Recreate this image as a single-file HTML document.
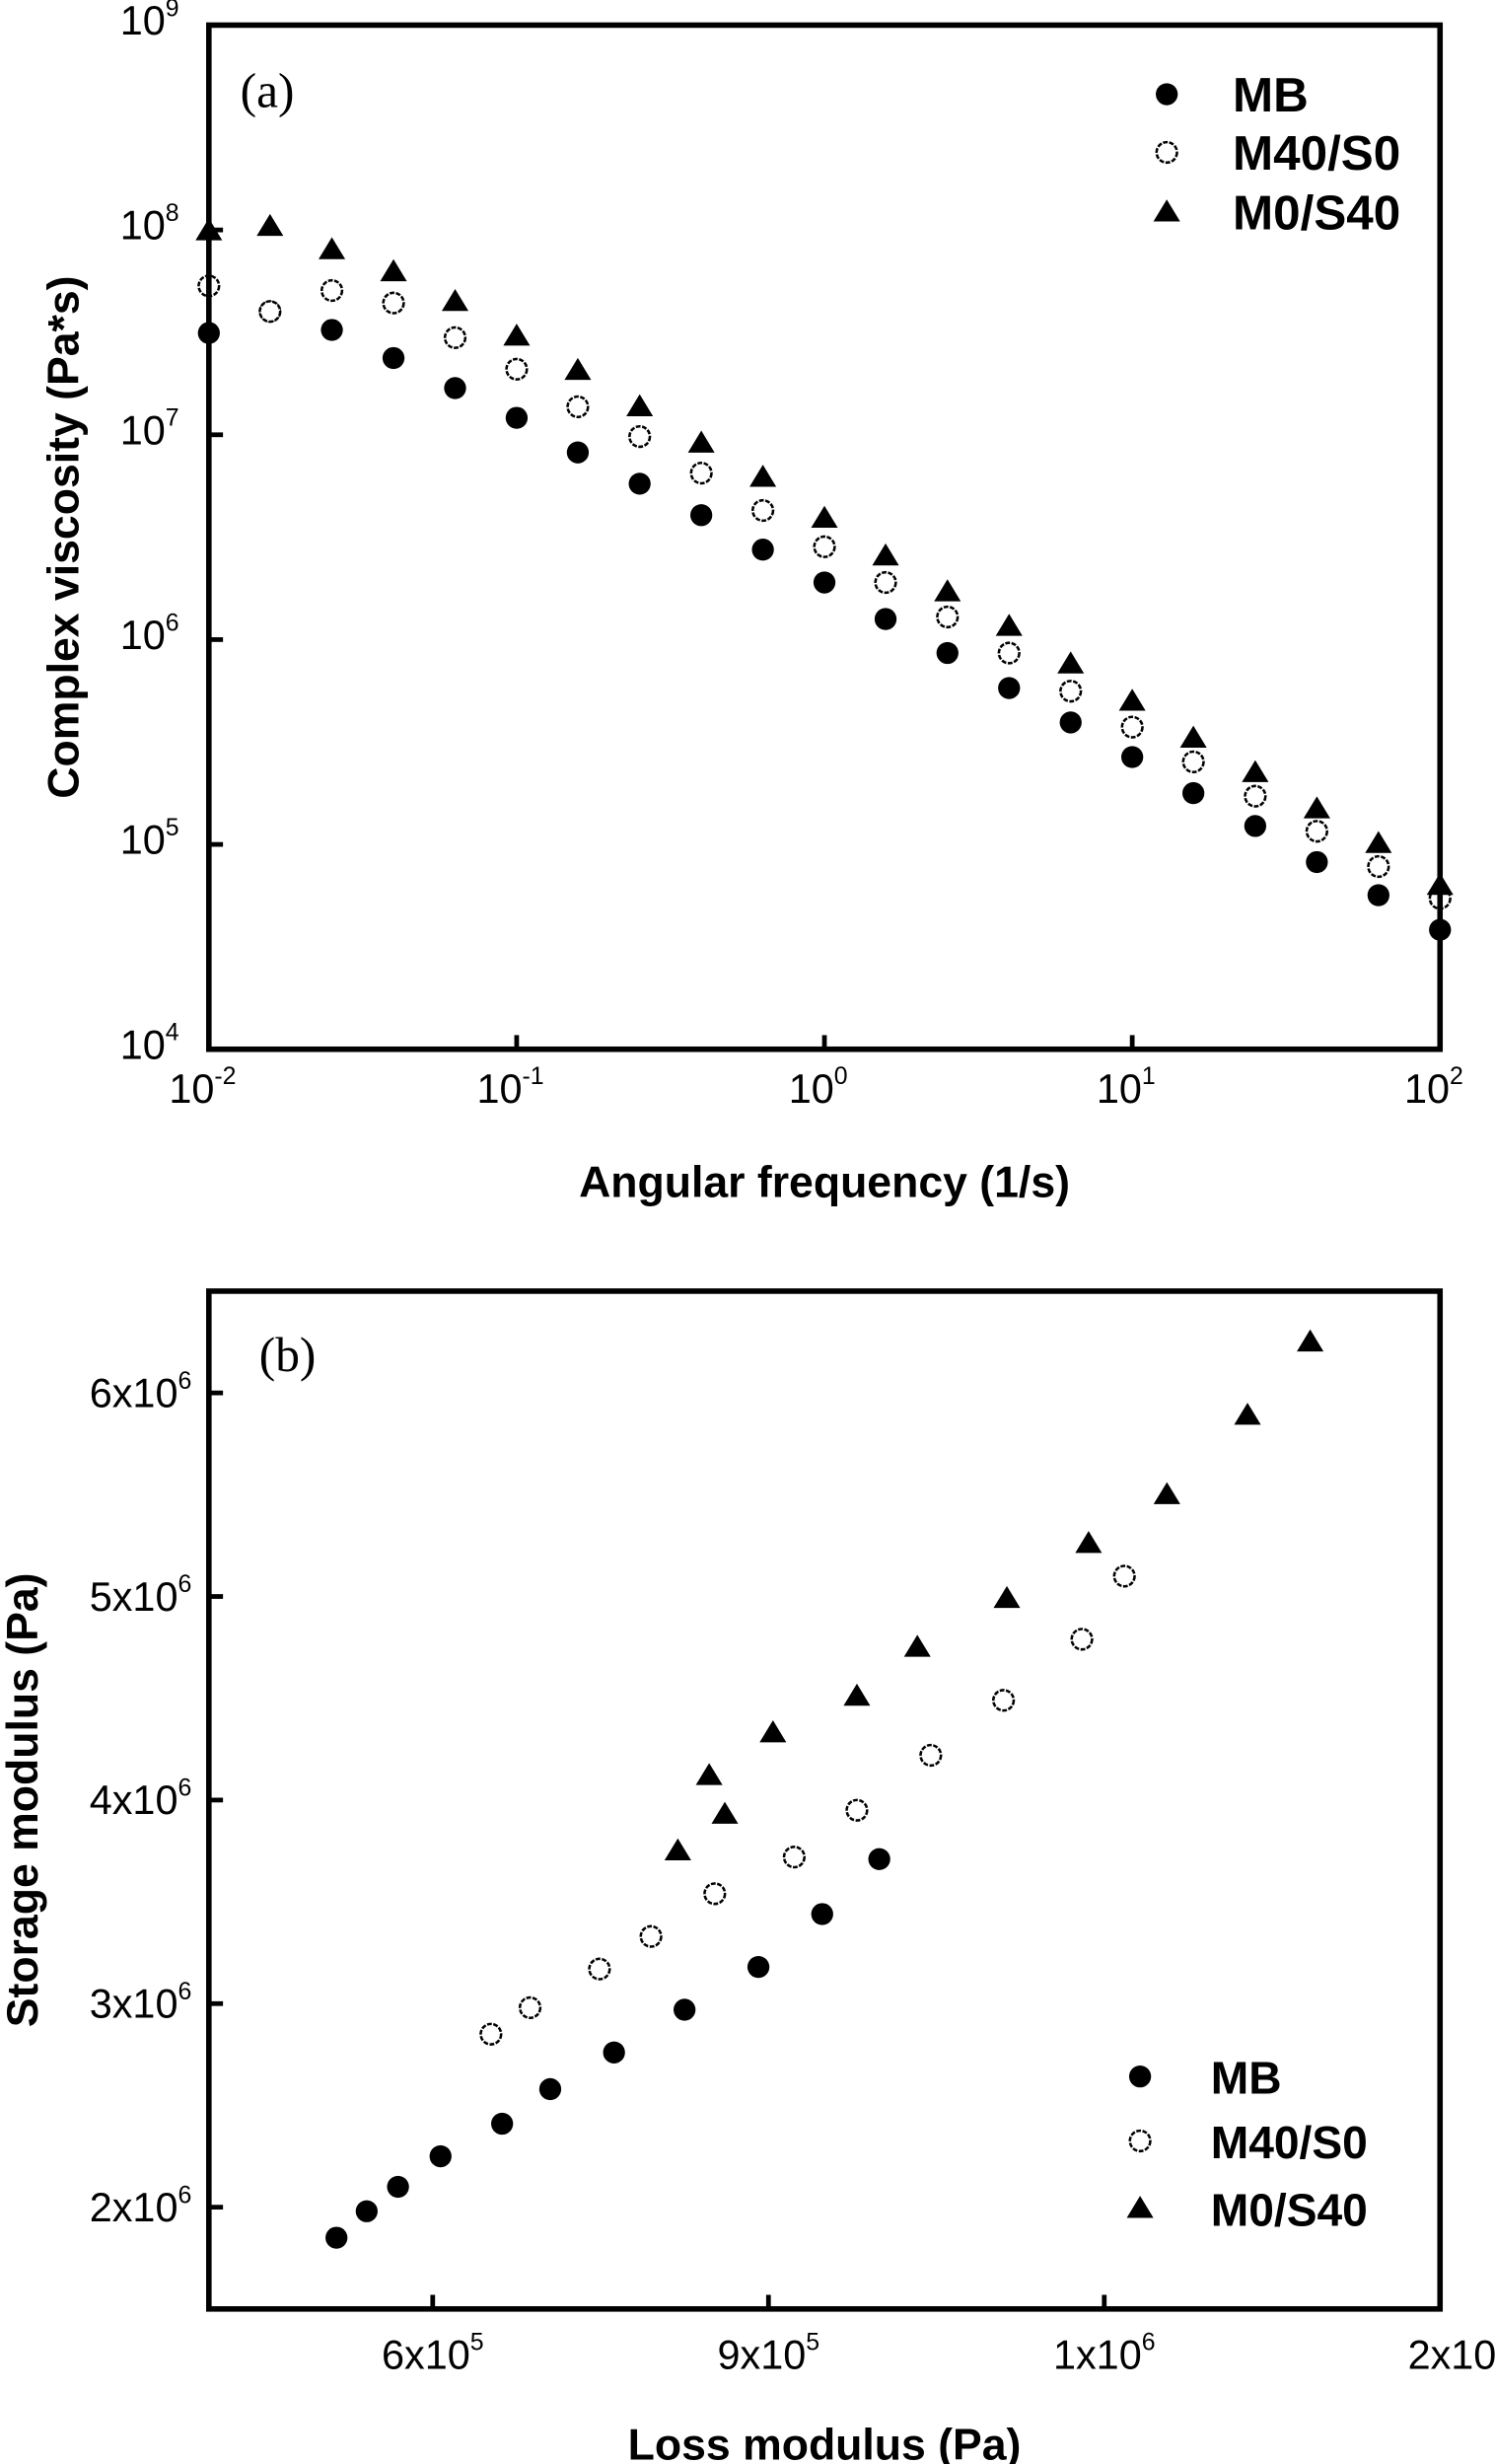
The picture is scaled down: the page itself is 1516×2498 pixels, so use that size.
<!DOCTYPE html>
<html><head><meta charset="utf-8"><style>
html,body{margin:0;padding:0;background:#fff}
svg{display:block}
text{font-family:"Liberation Sans",Arial,sans-serif;fill:#000}
</style></head><body>
<svg id="fig" width="1516" height="2498" viewBox="0 0 952 1568.7" xmlns="http://www.w3.org/2000/svg"></svg>
<script>
// ---- Panel (a) data ----
const freqA = [0.01,0.0158,0.0251,0.0398,0.0631,0.1,0.158,0.251,0.398,0.631,1,1.58,2.51,3.98,6.31,10,15.8,25.1,39.8,63.1,100];
const mbA = [3.14e7,4.0e7,3.25e7,2.37e7,1.69e7,1.21e7,8.2e6,5.77e6,4.05e6,2.75e6,1.9e6,1.26e6,8.6e5,5.8e5,3.94e5,2.67e5,1.78e5,1.23e5,8.2e4,5.65e4,3.83e4];
const m40A = [5.33e7,4.0e7,5.06e7,4.4e7,2.98e7,2.09e7,1.37e7,9.8e6,6.5e6,4.27e6,2.84e6,1.9e6,1.29e6,8.6e5,5.6e5,3.74e5,2.53e5,1.72e5,1.16e5,7.8e4,5.45e4];
const m0A = [9.9e7,1.04e8,8.0e7,6.25e7,4.47e7,3.03e7,2.06e7,1.37e7,9.1e6,6.2e6,3.91e6,2.56e6,1.71e6,1.16e6,7.6e5,5.0e5,3.3e5,2.24e5,1.49e5,1.01e5,6.3e4];
const xTicksA = [-2,-1,0,1,2];
const yTicksA = [4,5,6,7,8,9];
// ---- Panel (b) data ----
const mbBx = [514e3,541e3,569e3,607e3,662e3,705e3,762e3,825e3,891e3,948e3,999e3];
const mbBy = [1.85e6,1.98e6,2.10e6,2.25e6,2.41e6,2.58e6,2.76e6,2.97e6,3.18e6,3.44e6,3.71e6];
const m40Bx = [652e3,687e3,749e3,795e3,852e3,923e3,979e3,1045e3,1110e3,1180e3,1218e3];
const m40By = [2.85e6,2.98e6,3.17e6,3.33e6,3.54e6,3.72e6,3.95e6,4.22e6,4.49e6,4.79e6,5.10e6];
const m0Bx = [819e3,847e3,861e3,904e3,979e3,1033e3,1113e3,1186e3,1256e3,1328e3,1384e3];
const m0By = [3.75e6,4.12e6,3.93e6,4.33e6,4.51e6,4.75e6,4.99e6,5.26e6,5.50e6,5.89e6,6.25e6];
const xTickValsB = [6e5,9e5,1.2e6,1.5e6];
const xTickMantB = ['6','9','1','2'];
const xTickExpB = ['5','5','6','6'];
const yTickValsB = [2e6,3e6,4e6,5e6,6e6];
const yTickMantB = ['2','3','4','5','6'];

const NS='http://www.w3.org/2000/svg';
const svg=document.getElementById('fig');
function mk(tag,attrs,parent){const e=document.createElementNS(NS,tag);for(const k in attrs)e.setAttribute(k,attrs[k]);(parent||svg).appendChild(e);return e;}
const L=133,R=917;
const aT=16,aB=668;
const xa=v=>L+(Math.log10(v)+2)/4*(R-L);
const ya=v=>aB-(Math.log10(v)-4)/5*(aB-aT);
const bT=822,bB=1470;
const xb=v=>L+(v-4e5)/(1.5e6-4e5)*(R-L);
const yb=v=>bB-(v-1.5e6)/(6.5e6-1.5e6)*(bB-bT);

function marker(type,cx,cy,g){
  let e;
  if(type==='tri'){e=mk('polygon',{points:`${cx},${cy-8} ${cx-8.5},${cy+6} ${cx+8.5},${cy+6}`,fill:'#000'},g);}
  else if(type==='open'){e=mk('circle',{cx,cy,r:6.5,fill:'#fff',stroke:'#000','stroke-width':1.6,'stroke-dasharray':'3 1'},g);}
  else {e=mk('circle',{cx,cy,r:7,fill:'#000'},g);}
  return e;
}
function supText(x,y,base,sup,anchor,g,size){
  const t=mk('text',{x,y,'font-size':size,'text-anchor':anchor},g);
  const s1=mk('tspan',{},t);s1.textContent=base;
  const s2=mk('tspan',{'font-size':size*0.6,dy:-size*0.45},t);s2.textContent=sup;
  return t;
}

// ===== Panel a =====
const ga=mk('g',{});


xTicksA.forEach(e=>{const x=xa(Math.pow(10,e));mk('line',{x1:x,x2:x,y1:aB,y2:aB-9,stroke:'#000','stroke-width':3},ga);
  const t=supText(x-4,aB+34,'10',String(e),'middle',ga,26);
  });
yTicksA.forEach(e=>{const y=ya(Math.pow(10,e));mk('line',{x1:L,x2:L+9,y1:y,y2:y,stroke:'#000','stroke-width':3},ga);
  const t=supText(114,y+6,'10',String(e),'end',ga,26);
  });
[[mbA,'fill','mb'],[m40A,'open','m40-s0'],[m0A,'tri','m0-s40']].forEach(([arr,type,nm])=>{
  arr.forEach((v,i)=>{const m=marker(type,xa(freqA[i]),ya(v),ga);
    
    });
});
mk('rect',{x:L,y:aT,width:R-L,height:aB-aT,fill:'none',stroke:'#000','stroke-width':3.5},ga);
let t=mk('text',{x:153,y:68,'font-size':31,style:'font-family:"Liberation Serif",serif'},ga);t.textContent='(a)';

t=mk('text',{x:525,y:762,'font-size':28,'font-weight':'bold','text-anchor':'middle'},ga);t.textContent='Angular frequency (1/s)';

t=mk('text',{x:0,y:0,'font-size':28,'font-weight':'bold','text-anchor':'middle',transform:'translate(50,342) rotate(-90)'},ga);t.textContent='Complex viscosity (Pa*s)';

[['fill','MB',60],['open','M40/S0',97],['tri','M0/S40',135]].forEach(([type,lab,y])=>{
  const g=mk('g',{},ga);
  marker(type,743,y,g);const tx=mk('text',{x:785,y:y+11,'font-size':31,'font-weight':'bold'},g);tx.textContent=lab;});

// ===== Panel b =====
const gb=mk('g',{});


xTickValsB.forEach((v,i)=>{const x=xb(v);mk('line',{x1:x,x2:x,y1:bB,y2:bB-9,stroke:'#000','stroke-width':3},gb);
  const t=supText(x+(i===3?12:0),bB+38,xTickMantB[i]+'x10',xTickExpB[i],'middle',gb,26);
  });
yTickValsB.forEach((v,i)=>{const y=yb(v);mk('line',{x1:L,x2:L+9,y1:y,y2:y,stroke:'#000','stroke-width':3},gb);
  const t=supText(122,y+9,yTickMantB[i]+'x10','6','end',gb,26);
  });
[[mbBx,mbBy,'fill','mb'],[m40Bx,m40By,'open','m40-s0'],[m0Bx,m0By,'tri','m0-s40']].forEach(([xs,ys,type,nm])=>{
  xs.forEach((v,i)=>{const m=marker(type,xb(v),yb(ys[i]),gb);
    
    });
});
mk('rect',{x:L,y:bT,width:R-L,height:bB-bT,fill:'none',stroke:'#000','stroke-width':3.5},gb);
t=mk('text',{x:165,y:873,'font-size':31,style:'font-family:"Liberation Serif",serif'},gb);t.textContent='(b)';

t=mk('text',{x:525,y:1566,'font-size':28,'font-weight':'bold','text-anchor':'middle'},gb);t.textContent='Loss modulus (Pa)';

t=mk('text',{x:0,y:0,'font-size':28,'font-weight':'bold','text-anchor':'middle',transform:'translate(24,1146) rotate(-90)'},gb);t.textContent='Storage modulus (Pa)';

[['fill','MB',1322],['open','M40/S0',1363],['tri','M0/S40',1406]].forEach(([type,lab,y])=>{
  const g=mk('g',{},gb);
  marker(type,726,y,g);const tx=mk('text',{x:771,y:y+11,'font-size':29,'font-weight':'bold'},g);tx.textContent=lab;});
</script>
</body></html>
